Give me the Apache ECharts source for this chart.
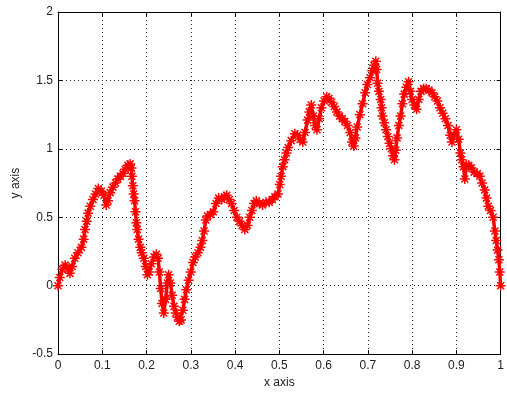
<!DOCTYPE html>
<html>
<head>
<meta charset="utf-8">
<script src="https://cdn.jsdelivr.net/npm/echarts@6/dist/echarts.min.js"></script>
<style>
  html, body { margin: 0; padding: 0; background: #fff; }
  #chart { width: 507px; height: 394px; }
</style>
</head>
<body>
<div id="chart"></div>
<script>
// Sample positions along the x axis
const xValues = [
  0.000, 0.004, 0.010, 0.016, 0.022, 0.027, 0.032, 0.038, 0.045, 0.053,
  0.058, 0.061, 0.065, 0.068, 0.073, 0.079, 0.085, 0.091, 0.098, 0.104,
  0.109, 0.113, 0.118, 0.124, 0.130, 0.135, 0.141, 0.147, 0.152, 0.158,
  0.163, 0.166, 0.167, 0.169, 0.171, 0.173, 0.175, 0.177, 0.179, 0.182,
  0.186, 0.189, 0.194, 0.198, 0.202, 0.206, 0.211, 0.217, 0.222, 0.226,
  0.229, 0.232, 0.235, 0.239, 0.243, 0.247, 0.250, 0.254, 0.258, 0.262,
  0.266, 0.270, 0.274, 0.278, 0.282, 0.286, 0.290, 0.295, 0.300, 0.305,
  0.310, 0.316, 0.322, 0.326, 0.330, 0.334, 0.338, 0.344, 0.351, 0.357,
  0.363, 0.370, 0.376, 0.381, 0.387, 0.392, 0.398, 0.404, 0.410, 0.416,
  0.422, 0.428, 0.433, 0.438, 0.443, 0.448, 0.455, 0.462, 0.470, 0.477,
  0.484, 0.490, 0.497, 0.501, 0.504, 0.508, 0.512, 0.516, 0.520, 0.527,
  0.535, 0.541, 0.547, 0.553, 0.558, 0.564, 0.568, 0.572, 0.577, 0.581,
  0.585, 0.590, 0.595, 0.601, 0.607, 0.612, 0.618, 0.624, 0.630, 0.636,
  0.642, 0.648, 0.654, 0.660, 0.664, 0.668, 0.672, 0.676, 0.682, 0.688,
  0.694, 0.699, 0.705, 0.710, 0.714, 0.718, 0.720, 0.722, 0.725, 0.729,
  0.731, 0.733, 0.737, 0.741, 0.745, 0.749, 0.753, 0.757, 0.760, 0.763,
  0.766, 0.770, 0.774, 0.778, 0.782, 0.787, 0.792, 0.796, 0.800, 0.805,
  0.810, 0.815, 0.820, 0.826, 0.832, 0.838, 0.845, 0.851, 0.857, 0.863,
  0.869, 0.875, 0.881, 0.886, 0.890, 0.895, 0.900, 0.905, 0.909, 0.912,
  0.916, 0.919, 0.923, 0.928, 0.934, 0.940, 0.947, 0.953, 0.958, 0.964,
  0.968, 0.972, 0.977, 0.983, 0.987, 0.990, 0.993, 0.996, 0.998, 1.000
];

// Walk values at each sample position
const yValues = [
  0.00, 0.06, 0.12, 0.15, 0.12, 0.09, 0.14, 0.20, 0.24, 0.28,
  0.34, 0.41, 0.47, 0.53, 0.58, 0.63, 0.67, 0.71, 0.69, 0.66,
  0.59, 0.62, 0.68, 0.72, 0.75, 0.78, 0.80, 0.82, 0.85, 0.88,
  0.89, 0.86, 0.80, 0.73, 0.67, 0.62, 0.54, 0.46, 0.41, 0.34,
  0.28, 0.24, 0.20, 0.14, 0.08, 0.10, 0.16, 0.21, 0.23, 0.20,
  0.10, -0.02, -0.13, -0.20, -0.10, 0.02, 0.08, 0.02, -0.07, -0.15,
  -0.20, -0.23, -0.26, -0.25, -0.18, -0.10, -0.03, 0.04, 0.10, 0.17,
  0.21, 0.24, 0.28, 0.33, 0.40, 0.48, 0.51, 0.52, 0.54, 0.60,
  0.64, 0.63, 0.65, 0.66, 0.63, 0.60, 0.55, 0.50, 0.47, 0.44,
  0.41, 0.44, 0.50, 0.55, 0.60, 0.62, 0.60, 0.59, 0.61, 0.61,
  0.63, 0.65, 0.67, 0.74, 0.80, 0.87, 0.92, 0.97, 1.01, 1.06,
  1.11, 1.10, 1.07, 1.05, 1.12, 1.21, 1.27, 1.32, 1.24, 1.17,
  1.14, 1.22, 1.30, 1.35, 1.38, 1.37, 1.34, 1.31, 1.27, 1.24,
  1.22, 1.20, 1.17, 1.12, 1.05, 1.02, 1.08, 1.16, 1.25, 1.33,
  1.41, 1.47, 1.52, 1.57, 1.61, 1.64, 1.58, 1.48, 1.42, 1.36,
  1.30, 1.24, 1.19, 1.14, 1.09, 1.04, 1.00, 0.95, 0.92, 0.99,
  1.08, 1.17, 1.24, 1.33, 1.40, 1.45, 1.49, 1.42, 1.36, 1.32,
  1.29, 1.36, 1.42, 1.44, 1.44, 1.43, 1.41, 1.38, 1.35, 1.30,
  1.26, 1.22, 1.17, 1.10, 1.05, 1.10, 1.14, 1.07, 0.97, 0.92,
  0.87, 0.78, 0.88, 0.88, 0.86, 0.83, 0.82, 0.80, 0.75, 0.70,
  0.64, 0.58, 0.55, 0.50, 0.40, 0.33, 0.26, 0.19, 0.10, 0.00
];

// Axis tick labels
const xTickLabels = ['0', '0.1', '0.2', '0.3', '0.4', '0.5', '0.6', '0.7', '0.8', '0.9', '1'];
const yTickLabels = ['-0.5', '0', '0.5', '1', '1.5', '2'];

const points = xValues.map((x, i) => [x, yValues[i]]);

// Eight-armed asterisk marker
const asterisk = 'path://M5,0L5,10M0,5L10,5M1.5,1.5L8.5,8.5M1.5,8.5L8.5,1.5';

const font = '"Liberation Sans", Arial, sans-serif';
const gridLine = { show: true, lineStyle: { color: '#222', type: [1, 3], width: 1 } };
const boxLine = { show: true, onZero: false, lineStyle: { color: '#000', width: 1 } };
const inTick = { show: true, inside: true, length: 4, lineStyle: { color: '#000' } };

const chart = echarts.init(document.getElementById('chart'), null, { renderer: 'canvas' });
chart.setOption({
  backgroundColor: '#fff',
  animation: false,
  grid: { left: 58, right: 2.5, top: 12, bottom: 39 },
  xAxis: [
    {
      type: 'value', min: 0, max: 1, interval: 0.1,
      axisLine: boxLine, axisTick: inTick, splitLine: gridLine,
      axisLabel: {
        color: '#222', fontFamily: font, fontSize: 12, margin: 6,
        formatter: v => xTickLabels[Math.round(v * 10)]
      },
      name: 'x axis', nameLocation: 'middle', nameGap: 22,
      nameTextStyle: { color: '#222', fontFamily: font, fontSize: 12 }
    },
    {
      type: 'value', position: 'top', min: 0, max: 1, interval: 0.1,
      axisLine: boxLine, axisTick: inTick, splitLine: { show: false },
      axisLabel: { show: false }
    }
  ],
  yAxis: [
    {
      type: 'value', min: -0.5, max: 2, interval: 0.5,
      axisLine: boxLine, axisTick: inTick, splitLine: gridLine,
      axisLabel: {
        color: '#222', fontFamily: font, fontSize: 12, margin: 5,
        formatter: v => yTickLabels[Math.round((v + 0.5) * 2)]
      },
      name: 'y axis', nameLocation: 'middle', nameGap: 36, nameRotate: 90,
      nameTextStyle: { color: '#222', fontFamily: font, fontSize: 12 }
    },
    {
      type: 'value', position: 'right', min: -0.5, max: 2, interval: 0.5,
      axisLine: boxLine, axisTick: inTick, splitLine: { show: false },
      axisLabel: { show: false }
    }
  ],
  series: [
    {
      type: 'line',
      data: points,
      showSymbol: true,
      symbol: asterisk,
      symbolSize: 10,
      itemStyle: { color: 'rgba(0,0,0,0)', borderColor: '#f00', borderWidth: 1.5 },
      lineStyle: { color: '#f00', width: 3.5 },
      clip: true,
      z: 5
    }
  ]
});
</script>
</body>
</html>
